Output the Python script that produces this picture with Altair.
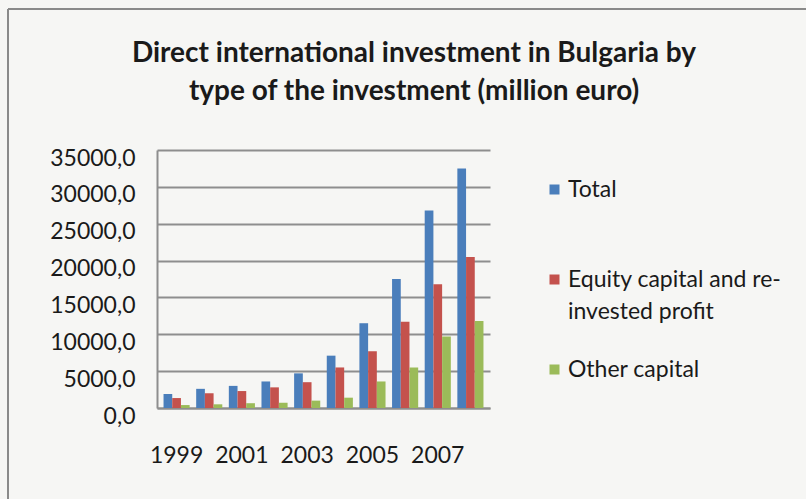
import altair as alt
import pandas as pd

years = ["1999", "2000", "2001", "2002", "2003", "2004", "2005", "2006", "2007", "2008"]
series = ["Total", "Equity capital and re-invested profit", "Other capital"]
total = [1900, 2600, 3000, 3600, 4700, 7100, 11500, 17500, 26800, 32500]
equity = [1350, 2000, 2300, 2800, 3500, 5500, 7700, 11700, 16800, 20500]
other = [400, 500, 650, 700, 1000, 1400, 3600, 5500, 9700, 11800]
colors = ["#4a7ebb", "#c4524d", "#9bbb59"]
title_lines = ["Direct international investment in Bulgaria by", "type of the investment (million euro)"]

rows = []
for i, y in enumerate(years):
    for s, vals in zip(series, [total, equity, other]):
        rows.append({"year": y, "series": s, "value": vals[i]})
df = pd.DataFrame(rows)

FONT = "Lato"
GRID = "#8e8e8e"
INK = "#1a1a1a"

bars = alt.Chart(df).mark_bar().encode(
    x=alt.X(
        "year:N",
        sort=years,
        scale=alt.Scale(paddingInner=0.2, paddingOuter=0.2),
        axis=alt.Axis(
            title=None,
            labelExpr="toNumber(datum.value) % 2 == 1 ? datum.value : ''",
            labelAngle=0,
            labelFont=FONT,
            labelFontSize=23,
            labelColor=INK,
            labelPadding=36,
            ticks=False,
            domainColor=GRID,
            domainWidth=2,
            grid=False,
        ),
    ),
    xOffset=alt.XOffset("series:N", sort=series, scale=alt.Scale(paddingInner=0, paddingOuter=0)),
    y=alt.Y(
        "value:Q",
        scale=alt.Scale(domain=[0, 35000], nice=False),
        axis=alt.Axis(
            title=None,
            values=[0, 5000, 10000, 15000, 20000, 25000, 30000, 35000],
            labelExpr="replace(format(datum.value, '.1f'), '.', ',')",
            labelFont=FONT,
            labelFontSize=23,
            labelColor=INK,
            labelPadding=22,
            labelOffset=8,
            ticks=False,
            domainColor=GRID,
            domainWidth=2,
            gridColor=GRID,
            gridWidth=2,
        ),
    ),
    color=alt.Color(
        "series:N",
        sort=series,
        scale=alt.Scale(domain=series, range=colors),
        legend=alt.Legend(
            title=None,
            orient="none",
            legendX=386,
            legendY=28,
            symbolType="square",
            symbolSize=100,
            symbolStrokeWidth=0,
            labelFont=FONT,
            labelFontSize=23,
            labelColor=INK,
            labelLimit=400,
            labelOffset=2,
            rowPadding=34,
            labelExpr=(
                "datum.label == 'Equity capital and re-invested profit' "
                "? ['Equity capital and re-', 'invested profit'] "
                ": [datum.label, '']"
            ),
        ),
    ),
)

# two-line heading centred over the chart area
heading = alt.Chart().mark_text(
    font=FONT, fontSize=28, fontWeight="bold", color=INK,
    align="center", baseline="top", lineHeight=38,
).encode(x=alt.value(257), y=alt.value(-110), text=alt.value(title_lines))

# chart-area frame along the top and left edges
frame_top = alt.Chart().mark_rule(color="#8a8a8a", strokeWidth=2).encode(
    x=alt.value(-149), x2=alt.value(660), y=alt.value(-141)
)
frame_left = alt.Chart().mark_rule(color="#8a8a8a", strokeWidth=2).encode(
    x=alt.value(-149), y=alt.value(-141), y2=alt.value(360)
)

chart = (
    alt.layer(frame_top, frame_left, heading, bars)
    .properties(
        width=333,
        height=258,
        autosize=alt.AutoSizeParams(type="none"),
        padding={"left": 157, "top": 150, "right": 316, "bottom": 91},
        background="#f6f6f4",
    )
    .configure(style={"guide-label": {"lineHeight": 32}})
    .configure_view(stroke=None)
)

chart.save("out.html", embed_options={"renderer": "svg", "actions": False})
